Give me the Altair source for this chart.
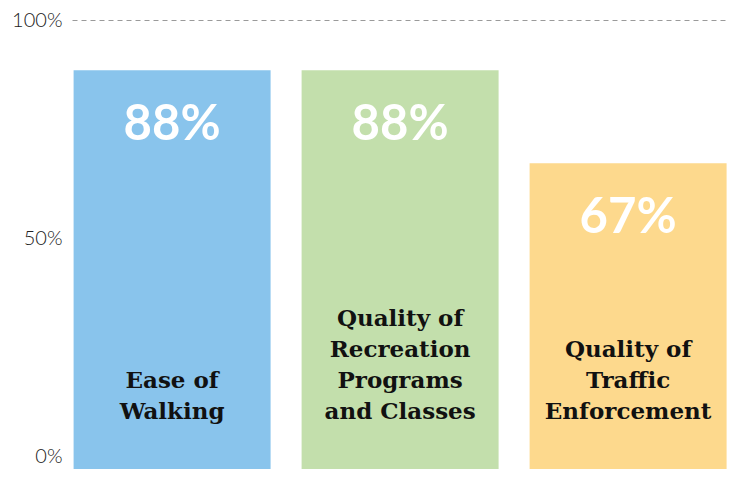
import altair as alt
import pandas as pd

categories = ["Ease of Walking", "Quality of Recreation Programs and Classes", "Quality of Traffic Enforcement"]
label_lines = [["Ease of", "Walking"],
               ["Quality of", "Recreation", "Programs", "and Classes"],
               ["Quality of", "Traffic", "Enforcement"]]
values = [0.885, 0.885, 0.672]
value_labels = ["88%", "88%", "67%"]
colors = ["#89C4EC", "#C3DFAC", "#FDD98D"]
y_ticks = [0, 0.5, 1]
y_min = -0.0275

df = pd.DataFrame({
    "cat": categories,
    "value": values,
    "vlabel": value_labels,
    "color": colors,
})

# one row per label line, numbered from the bottom line upward
rows = []
for cat, lines in zip(categories, label_lines):
    n = len(lines)
    for i, t in enumerate(lines):
        rows.append({"cat": cat, "line": t, "k": n - 1 - i})
lines_df = pd.DataFrame(rows)

x = alt.X("cat:N", sort=categories, axis=None,
          scale=alt.Scale(paddingInner=0.136, paddingOuter=0.00877, align=0.4))

bars = alt.Chart(df).mark_bar().encode(
    x=x,
    y=alt.Y("value:Q", scale=alt.Scale(domain=[y_min, 1], nice=False, zero=False),
            axis=alt.Axis(values=y_ticks, format=".0%", title=None, domain=False, ticks=False,
                          labelFont="Lato", labelFontWeight=300, labelFontSize=20,
                          labelColor="#222222", labelPadding=10, labelOffset=0,
                          grid=True, gridDash=[5, 4], gridColor="#9a9a9a", gridWidth=1,
                          gridOpacity={"condition": {"test": "datum.value === 1", "value": 1}, "value": 0})),
    y2=alt.datum(y_min),
    color=alt.Color("color:N", scale=None),
)

pct = alt.Chart(df).mark_text(font="Lato", fontWeight="bold", fontSize=49, color="white",
                              baseline="middle", dy=55).encode(
    x=x, y=alt.Y("value:Q"), text="vlabel:N")

line_layers = []
for k in range(4):
    line_layers.append(
        alt.Chart(lines_df).transform_filter(alt.datum.k == k).mark_text(
            font="DejaVu Serif", fontWeight="bold", fontSize=23, color="#111111",
            baseline="middle", dy=-45 - 31 * k,
        ).encode(x=x, y=alt.datum(0), text="line:N")
    )

chart = alt.layer(bars, pct, *line_layers).properties(
    width=657, height=449,
    padding={"left": 64, "top": 12, "right": 0, "bottom": 0},
    autosize=alt.AutoSizeParams(type="none"),
).configure_view(stroke=None)

chart.save("out.html", embed_options={"renderer": "svg", "actions": False})
